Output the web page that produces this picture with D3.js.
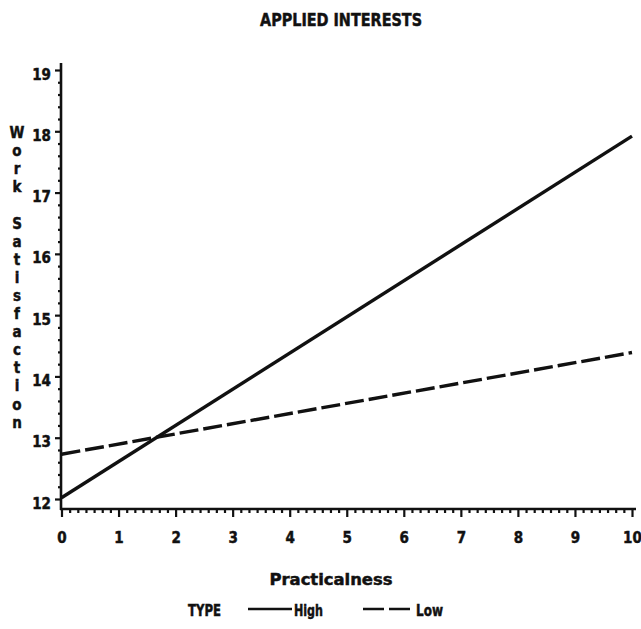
<!DOCTYPE html>
<html>
<head>
<meta charset="utf-8">
<script src="https://cdn.jsdelivr.net/npm/d3@7"></script>
<style>
  body { margin: 0; background: #fff; }
  svg { display: block; }
  text { font-family: "DejaVu Sans Condensed", "DejaVu Sans", sans-serif; font-weight: bold; fill: #111; stroke: #111; stroke-width: 0.45px; }
</style>
</head>
<body>
<svg id="chart" width="641" height="629"></svg>
<script>
// Predicted work satisfaction across practicalness, by interest type
const practicalness = [0, 10];
const highType = [12.02, 17.92];
const lowType = [12.73, 14.39];
const seriesNames = ["High", "Low"];
const xTickValues = [0, 1, 2, 3, 4, 5, 6, 7, 8, 9, 10];
const yTickValues = [12, 13, 14, 15, 16, 17, 18, 19];
const titleText = "APPLIED INTERESTS";
const xTitle = "Practicalness";
const yTitle = "Work Satisfaction";
const legendTitle = "TYPE";

const svg = d3.select("#chart");
const ink = "#111";

const x = d3.scaleLinear().domain([0, 10]).range([61.5, 632]);
const y = d3.scaleLinear().domain([12, 19]).range([499, 70]);

const xAxisY = 509;
const yAxisX = 61;

// Axis lines
svg.append("line")
  .attr("x1", yAxisX).attr("x2", yAxisX)
  .attr("y1", 63).attr("y2", xAxisY + 1)
  .attr("stroke", ink).attr("stroke-width", 2.6);
svg.append("line")
  .attr("x1", yAxisX - 1).attr("x2", 636)
  .attr("y1", xAxisY).attr("y2", xAxisY)
  .attr("stroke", ink).attr("stroke-width", 2.6);

// Y axis: minor and major ticks
const yMinor = d3.range(12, 19.0001, 0.2).filter(v => Math.abs(v - Math.round(v)) > 0.01);
const yAxisMinor = d3.axisLeft(y).tickValues(yMinor).tickSize(3).tickFormat("");
const yAxisMajor = d3.axisLeft(y).tickValues(yTickValues).tickSize(6).tickFormat(d3.format("d")).tickPadding(4);

const gyMinor = svg.append("g").attr("transform", `translate(${yAxisX},0)`).call(yAxisMinor);
const gyMajor = svg.append("g").attr("transform", `translate(${yAxisX},0)`).call(yAxisMajor);
[gyMinor, gyMajor].forEach(g => {
  g.select(".domain").remove();
  g.selectAll("line").attr("stroke", ink).attr("stroke-width", 2.2);
});
gyMajor.selectAll("text")
  .attr("font-size", 15)
  .attr("dy", "0.6em")
  .attr("fill", ink)
  .style("font-family", '"DejaVu Sans Condensed", "DejaVu Sans", sans-serif')
  .style("font-weight", "bold");

// X axis: minor and major ticks
const xMinor = [];
xTickValues.slice(0, -1).forEach(v => {
  for (let k = 1; k < 7; k++) xMinor.push(v + k / 7);
});
const xAxisMinor = d3.axisBottom(x).tickValues(xMinor).tickSize(4).tickFormat("");
const xAxisMajor = d3.axisBottom(x).tickValues(xTickValues).tickSize(8).tickFormat(d3.format("d")).tickPadding(15);

const gxMinor = svg.append("g").attr("transform", `translate(0,${xAxisY})`).call(xAxisMinor);
const gxMajor = svg.append("g").attr("transform", `translate(0,${xAxisY})`).call(xAxisMajor);
[gxMinor, gxMajor].forEach(g => {
  g.select(".domain").remove();
  g.selectAll("line").attr("stroke", ink).attr("stroke-width", 2.2);
});
gxMajor.selectAll("text")
  .attr("font-size", 15)
  .attr("fill", ink)
  .style("font-family", '"DejaVu Sans Condensed", "DejaVu Sans", sans-serif')
  .style("font-weight", "bold");

// Series lines
const series = [
  { name: seriesNames[0], values: highType, dash: null },
  { name: seriesNames[1], values: lowType, dash: "19,5" }
];
const line = d3.line().x(d => x(d[0])).y(d => y(d[1]));
svg.append("g").selectAll("path")
  .data(series)
  .join("path")
  .attr("d", s => line(practicalness.map((p, i) => [p, s.values[i]])))
  .attr("fill", "none")
  .attr("stroke", ink)
  .attr("stroke-width", 3.4)
  .attr("stroke-dasharray", s => s.dash);

// Title
svg.append("text")
  .attr("x", 341).attr("y", 26)
  .attr("text-anchor", "middle")
  .attr("font-size", 17)
  .attr("textLength", 162)
  .attr("lengthAdjust", "spacingAndGlyphs")
  .text(titleText);

// X axis title
svg.append("text")
  .attr("x", 331).attr("y", 585)
  .attr("text-anchor", "middle")
  .attr("font-size", 16)
  .attr("textLength", 123)
  .attr("lengthAdjust", "spacingAndGlyphs")
  .text(xTitle);

// Y axis title, letters stacked vertically
svg.append("g").selectAll("text")
  .data(yTitle.split(""))
  .join("text")
  .attr("x", 17)
  .attr("y", (d, i) => 138 + i * 18.1)
  .attr("text-anchor", "middle")
  .attr("font-size", 15)
  .text(d => d);

// Legend
const legend = svg.append("g");
legend.append("text")
  .attr("x", 188).attr("y", 616)
  .attr("font-size", 15)
  .attr("textLength", 33)
  .attr("lengthAdjust", "spacingAndGlyphs")
  .text(legendTitle);

const legendItems = [
  { s: series[0], x0: 248, x1: 292, tx: 294, tw: 29 },
  { s: series[1], x0: 363, x1: 410, tx: 416, tw: 27 }
];
legendItems.forEach(it => {
  legend.append("line")
    .attr("x1", it.x0).attr("x2", it.x1)
    .attr("y1", 609).attr("y2", 609)
    .attr("stroke", ink).attr("stroke-width", 2.4)
    .attr("stroke-dasharray", it.s.dash ? "21,5" : null);
  legend.append("text")
    .attr("x", it.tx).attr("y", 616)
    .attr("font-size", 15)
    .attr("textLength", it.tw)
    .attr("lengthAdjust", "spacingAndGlyphs")
    .text(it.s.name);
});
</script>
</body>
</html>
